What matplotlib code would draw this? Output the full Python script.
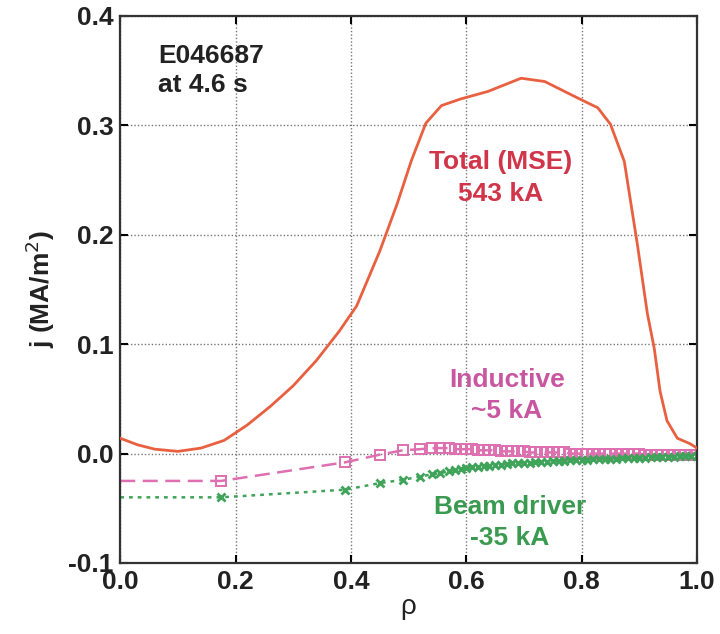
import matplotlib
matplotlib.use("Agg")
import matplotlib.pyplot as plt

plt.rcParams['font.family'] = ['Liberation Sans', 'DejaVu Sans']

# ---- data ----
rho_total = [0.0, 0.03, 0.06, 0.1, 0.14, 0.18, 0.22, 0.26, 0.3, 0.34, 0.38, 0.41,
             0.45, 0.48, 0.505, 0.53, 0.557, 0.59, 0.638, 0.695, 0.736, 0.793,
             0.828, 0.85, 0.874, 0.897, 0.914, 0.926, 0.936, 0.948, 0.966, 0.988,
             1.0]
j_total = [0.014, 0.008, 0.004, 0.002, 0.005, 0.012, 0.026, 0.043, 0.062, 0.085,
           0.112, 0.135, 0.185, 0.228, 0.268, 0.302, 0.318, 0.324, 0.331, 0.343,
           0.34, 0.325, 0.316, 0.301, 0.267, 0.19, 0.128, 0.096, 0.057, 0.03,
           0.014, 0.009, 0.005]

rho_grid = [0.0, 0.175, 0.39, 0.45, 0.49, 0.52, 0.54, 0.555, 0.57, 0.58, 0.59,
            0.60, 0.61, 0.62, 0.63, 0.64, 0.65, 0.66, 0.67, 0.68, 0.69, 0.70,
            0.71, 0.72, 0.73, 0.74, 0.75, 0.76, 0.77, 0.78, 0.79, 0.80, 0.81,
            0.82, 0.83, 0.84, 0.85, 0.86, 0.87, 0.88, 0.89, 0.90, 0.91, 0.92,
            0.93, 0.94, 0.95, 0.96, 0.97, 0.98, 0.99, 1.0]
j_inductive = [-0.025, -0.025, -0.008, -0.001, 0.003, 0.004, 0.005, 0.005, 0.005,
               0.004, 0.004, 0.004, 0.004, 0.003, 0.003, 0.003, 0.003, 0.002,
               0.002, 0.002, 0.002, 0.002, 0.001, 0.001, 0.001, 0.001, 0.001,
               0.001, 0.001, 0.000, 0.000, 0.000, 0.000, 0.000, 0.000, 0.000,
               0.000, 0.000, 0.000, 0.000, 0.000, 0.000, -0.001, -0.001, -0.001,
               -0.001, -0.001, -0.001, -0.001, -0.001, -0.001, -0.001]
j_beam = [-0.040, -0.040, -0.033, -0.027, -0.024, -0.021, -0.019, -0.018, -0.016,
          -0.015, -0.014, -0.013, -0.0125, -0.012, -0.0115, -0.011, -0.0105,
          -0.010, -0.0095, -0.009, -0.0088, -0.0085, -0.0082, -0.008, -0.0077,
          -0.0074, -0.0071, -0.0068, -0.0065, -0.0062, -0.006, -0.0058, -0.0056,
          -0.0054, -0.0052, -0.005, -0.0048, -0.0046, -0.0044, -0.0042, -0.004,
          -0.0038, -0.0036, -0.0034, -0.0032, -0.003, -0.0029, -0.0028, -0.0026,
          -0.0024, -0.0022, -0.002]

x_ticks = [0.0, 0.2, 0.4, 0.6, 0.8, 1.0]
y_ticks = [-0.1, 0.0, 0.1, 0.2, 0.3, 0.4]

# ---- figure ----
fig = plt.figure(figsize=(7.2, 6.34), dpi=100)
ax = fig.add_axes([0.167, 0.112, 0.801, 0.863])

ax.plot(rho_total, j_total, color='#e8603f', lw=2.0, zorder=3)
ax.plot(rho_grid, j_inductive, color='#de6fb0', lw=1.8, ls=(0, (6, 3)),
        marker='s', ms=7, mfc='none', mec='#de6fb0', mew=1.4,
        markevery=list(range(1, len(rho_grid))), zorder=2)
ax.plot(rho_grid, j_beam, color='#3fa35a', lw=1.8, ls=(0, (1.5, 2)),
        marker='x', ms=5.5, mew=2.0, mec='#3fa35a',
        markevery=list(range(1, len(rho_grid))), zorder=2)

ax.set_xlim(0, 1)
ax.set_ylim(-0.1, 0.4)
ax.set_xticks(x_ticks)
ax.set_yticks(y_ticks)
ax.set_xticklabels(['%.1f' % v for v in x_ticks])
ax.set_yticklabels(['%.1f' % v for v in y_ticks])
ax.tick_params(direction='in', top=True, right=True, length=6, width=1.5,
               labelsize=19, pad=5)
for lab in ax.get_xticklabels() + ax.get_yticklabels():
    lab.set_fontweight('bold')
    lab.set_color('#222222')
for s in ax.spines.values():
    s.set_linewidth(1.6)
    s.set_color('#333333')
ax.grid(True, ls=(0, (1, 1.5)), color='#777777', lw=1.0)

ax.set_xlabel('ρ', fontsize=20, labelpad=0, color='#222222')
ax.set_ylabel('j (MA/m$^2$)', fontsize=19, fontweight='bold', labelpad=8,
              color='#222222')

ax.text(0.066, 0.374, 'E046687\nat 4.6 s', fontsize=19, fontweight='bold',
        color='#222222', va='top', ha='left', linespacing=1.25)
ax.text(0.66, 0.252, 'Total (MSE)\n543 kA', fontsize=19, fontweight='bold',
        color='#d0354a', ha='center', va='center', linespacing=1.4)
ax.text(0.67, 0.053, 'Inductive\n~5 kA', fontsize=19, fontweight='bold',
        color='#c956a0', ha='center', va='center', linespacing=1.4)
ax.text(0.676, -0.063, 'Beam driver\n-35 kA', fontsize=19, fontweight='bold',
        color='#3a9a50', ha='center', va='center', linespacing=1.4)

fig.savefig('out.png', dpi=100, facecolor='white')
